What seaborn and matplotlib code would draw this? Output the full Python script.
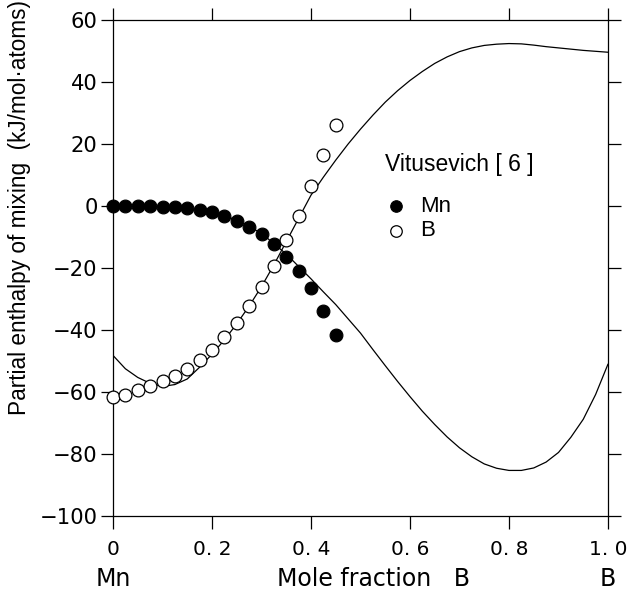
import matplotlib
matplotlib.use("Agg")
import matplotlib.pyplot as plt
import matplotlib.transforms as mtransforms
import seaborn as sns
import pandas as pd

# ---------------- data ----------------
pt_x = [0.0, 0.025, 0.05, 0.075, 0.1, 0.125, 0.15, 0.175, 0.2, 0.225,
        0.25, 0.275, 0.3, 0.325, 0.35, 0.375, 0.4, 0.425, 0.45]
mn_points = [0.0, 0.0, 0.0, -0.1, -0.2, -0.4, -0.6, -1.2, -2.0, -3.3,
             -4.7, -6.8, -9.0, -12.2, -16.3, -21.0, -26.5, -33.8, -41.5]
b_points = [-61.7, -60.9, -59.5, -58.2, -56.6, -54.9, -52.5, -49.8, -46.3, -42.3,
            -37.8, -32.4, -26.0, -19.2, -11.1, -3.1, 6.4, 16.5, 26.2]

mn_curve_x = [0.0, 0.05, 0.1, 0.15, 0.2, 0.25, 0.3, 0.35, 0.375, 0.4, 0.425, 0.45,
              0.475, 0.5, 0.525, 0.55, 0.575, 0.6, 0.625, 0.65, 0.675, 0.7, 0.725,
              0.75, 0.775, 0.8, 0.825, 0.85, 0.875, 0.9, 0.925, 0.95, 0.975, 1.0]
mn_curve_y = [0.0, -0.1, -0.3, -0.8, -2.0, -4.5, -8.8, -15.5, -19.5, -23.5, -27.7, -31.8,
              -36.4, -41.0, -46.3, -51.5, -56.6, -61.5, -66.2, -70.5, -74.5, -78.0, -80.9,
              -83.2, -84.6, -85.3, -85.3, -84.5, -82.6, -79.5, -74.6, -68.8, -60.8, -51.0]

b_curve_x = [0.0, 0.025, 0.05, 0.075, 0.1, 0.125, 0.15, 0.175, 0.2, 0.225, 0.25,
             0.275, 0.3, 0.325, 0.35, 0.375, 0.4, 0.425, 0.45, 0.475, 0.5, 0.525,
             0.55, 0.575, 0.6, 0.625, 0.65, 0.675, 0.7, 0.725, 0.75, 0.775, 0.8,
             0.825, 0.85, 0.875, 0.9, 0.95, 1.0]
b_curve_y = [-48.2, -52.5, -55.3, -57.2, -58.2, -57.6, -55.8, -52.0, -47.8, -43.2, -38.0,
             -32.3, -26.0, -19.0, -11.5, -4.0, 3.5, 9.3, 14.8, 20.0, 24.8, 29.3,
             33.5, 37.2, 40.5, 43.4, 46.0, 48.1, 49.8, 51.0, 51.8, 52.2, 52.4,
             52.3, 51.9, 51.4, 51.0, 50.2, 49.6]

x_ticks = [0, 0.2, 0.4, 0.6, 0.8, 1.0]
x_tick_labels = ["0", "0. 2", "0. 4", "0. 6", "0. 8", "1. 0"]
y_ticks = [-100, -80, -60, -40, -20, 0, 20, 40, 60]
y_tick_labels = ["\u2212100", "\u221280", "\u221260", "\u221240", "\u221220",
                 "0", "20", "40", "60"]

legend_title = "Vitusevich [ 6 ]"
series_names = ["Mn", "B"]
x_label = "Mole fraction   B"
y_label = "Partial enthalpy of mixing  (kJ/mol\u00b7atoms)"
left_end_label = "Mn"
right_end_label = "B"

# ---------------- style ----------------
sns.set_style("ticks")
plt.rcParams["font.family"] = ["DejaVu Sans"]
for key in ["text.color", "axes.labelcolor", "xtick.color", "ytick.color",
            "axes.edgecolor"]:
    plt.rcParams[key] = "black"
plt.rcParams["axes.linewidth"] = 0.9

fig = plt.figure(figsize=(6.33, 5.93), dpi=100)
ax = fig.add_axes([113 / 633, 1 - 516 / 593, 495 / 633, 496 / 593])

curve_mn = pd.DataFrame({"x": mn_curve_x, "y": mn_curve_y})
curve_b = pd.DataFrame({"x": b_curve_x, "y": b_curve_y})
sns.lineplot(data=curve_mn, x="x", y="y", ax=ax, color="black", lw=0.9,
             sort=True, estimator=None, zorder=2)
sns.lineplot(data=curve_b, x="x", y="y", ax=ax, color="black", lw=0.9,
             sort=True, estimator=None, zorder=2)

pts_mn = pd.DataFrame({"x": pt_x, "y": mn_points})
pts_b = pd.DataFrame({"x": pt_x, "y": b_points})
sns.scatterplot(data=pts_mn, x="x", y="y", ax=ax, s=85, color="black",
                edgecolor="black", linewidth=0.8, label=series_names[0],
                zorder=3, clip_on=False)
sns.scatterplot(data=pts_b, x="x", y="y", ax=ax, s=85, facecolor="white",
                edgecolor="black", linewidth=0.9, label=series_names[1],
                zorder=3, clip_on=False)

ax.set_xlim(0, 1)
ax.set_ylim(-100, 60)
ax.set_xticks(x_ticks)
ax.set_xticklabels(x_tick_labels)
ax.set_yticks(y_ticks)
ax.set_yticklabels(y_tick_labels)
for s in ax.spines.values():
    s.set_visible(True)
    s.set_linewidth(0.9)
    s.set_color("black")
ax.tick_params(axis="both", direction="out", length=9, width=0.9, colors="black",
               top=True, right=True, labeltop=False, labelright=False)
ax.tick_params(axis="x", pad=8.5, labelsize=14.5)
ax.tick_params(axis="y", pad=2, labelsize=15.2)

# axis labels
ax.set_xlabel(x_label, fontsize=17)
ax.xaxis.set_label_coords(0.526, -0.127)
ax.xaxis.label.set_va("center")
ax.set_ylabel(y_label, fontsize=16.3, family=["Liberation Sans", "DejaVu Sans"])
ax.yaxis.set_label_coords(-0.188, 0.621)
ax.yaxis.label.set_va("center")
ax.yaxis.label.set_ha("center")

trans = mtransforms.blended_transform_factory(ax.transData, ax.transAxes)
ax.text(0.0, -0.127, left_end_label, transform=trans, ha="center", va="center",
        fontsize=17)
ax.text(1.0, -0.127, right_end_label, transform=trans, ha="center", va="center",
        fontsize=17)

# legend
ax.text(0.55, 0.708, legend_title, transform=ax.transAxes, ha="left", va="center",
        fontsize=16.5, family=["Liberation Sans", "DejaVu Sans"])
leg = ax.legend(loc="upper left", bbox_to_anchor=(0.55, 0.645), frameon=False,
                borderpad=0, borderaxespad=0, handlelength=0.95, handletextpad=0.6,
                labelspacing=0.15, prop={"family": ["Liberation Sans", "DejaVu Sans"], "size": 16},
                markerscale=0.9)

fig.savefig("out.png", dpi=100)
